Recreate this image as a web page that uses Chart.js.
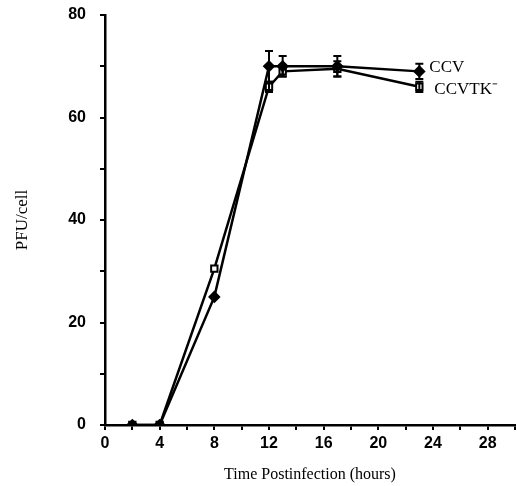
<!DOCTYPE html>
<html>
<head>
<meta charset="utf-8">
<script src="https://cdn.jsdelivr.net/npm/chart.js@4/dist/chart.umd.min.js"></script>
<style>
  html, body { margin: 0; padding: 0; background: #fff; overflow: hidden; }
  canvas { display: block; }
</style>
</head>
<body>
<canvas id="growth" width="517" height="486"></canvas>
<script>
// hours postinfection
const hours = [2, 4, 8, 12, 13, 17, 23];
const ccv = [0, 0, 25, 70, 70, 70, 69];
const ccvErr = [0, 0, 0, 3, 2, 2, 1.5];
const ccvtk = [0, 0, 30.5, 66, 69, 69.5, 66];
const ccvtkErr = [0, 0, 0, 1, 1, 1.5, 1];
const seriesLabels = ['CCV', 'CCVTK\u207B'];

function toPoints(xs, ys){
  return xs.map((x, i) => ({x: x, y: ys[i]}));
}

// error bars + end labels
const extras = {
  id: 'extras',
  afterDatasetsDraw(chart){
    const ctx = chart.ctx;
    const xs = chart.scales.x, ys = chart.scales.y;
    const errs = [ccvErr, ccvtkErr];
    ctx.save();
    ctx.strokeStyle = '#000';
    ctx.lineWidth = 2;
    chart.data.datasets.forEach((ds, d) => {
      ds.data.forEach((p, i) => {
        const e = errs[d][i];
        if (!e) return;
        const px = xs.getPixelForValue(p.x);
        const top = ys.getPixelForValue(p.y + e);
        const bot = ys.getPixelForValue(p.y - e);
        ctx.beginPath();
        ctx.moveTo(px, top); ctx.lineTo(px, bot);
        ctx.moveTo(px - 4, top); ctx.lineTo(px + 4, top);
        ctx.moveTo(px - 4, bot); ctx.lineTo(px + 4, bot);
        ctx.stroke();
      });
    });
    ctx.fillStyle = '#000';
    ctx.font = '17px "Liberation Serif", serif';
    ctx.textBaseline = 'middle';
    const lastX = xs.getPixelForValue(hours[hours.length - 1]);
    ctx.fillText(seriesLabels[0], lastX + 10, ys.getPixelForValue(ccv[ccv.length - 1]) - 4);
    ctx.fillText(seriesLabels[1], lastX + 15, ys.getPixelForValue(ccvtk[ccvtk.length - 1]) + 3);
    ctx.restore();
  }
};

const config = {
  type: 'line',
  data: {
    datasets: [{
      label: seriesLabels[0],
      data: toPoints(hours, ccv),
      borderColor: '#000',
      borderWidth: 2.5,
      backgroundColor: '#000',
      pointStyle: 'rectRot',
      pointRadius: 4.5,
      pointBorderColor: '#000',
      pointBackgroundColor: '#000',
      tension: 0
    }, {
      label: seriesLabels[1],
      data: toPoints(hours, ccvtk),
      borderColor: '#000',
      borderWidth: 2.5,
      backgroundColor: '#fff',
      pointStyle: 'rect',
      pointRadius: 4.5,
      pointBorderWidth: 2,
      pointBorderColor: '#000',
      pointBackgroundColor: '#fff',
      tension: 0
    }]
  },
  options: {
    responsive: false,
    devicePixelRatio: 1,
    animation: false,
    layout: { autoPadding: false, padding: { top: 15, right: 2, left: 8, bottom: 0 } },
    plugins: { legend: { display: false }, tooltip: { enabled: false } },
    scales: {
      x: {
        type: 'linear',
        min: 0,
        max: 30,
        afterFit(scale){ scale.height = 61; scale.paddingRight = 0; scale.paddingLeft = 0; },
        ticks: {
          stepSize: 2,
          color: '#000',
          font: { family: '"Liberation Sans", sans-serif', size: 16, weight: 'bold' },
          callback: v => (v % 4 === 0 && v < 30) ? v : '',
          maxRotation: 0,
          autoSkip: false,
          padding: 4
        },
        grid: { display: true, drawOnChartArea: false, drawTicks: true, tickLength: 5, color: '#000', lineWidth: 2 },
        border: { color: '#000', width: 2.5 },
        title: {
          display: true,
          text: 'Time Postinfection (hours)',
          color: '#000',
          font: { family: '"Liberation Serif", serif', size: 16 },
          padding: { top: 2, bottom: 2 }
        }
      },
      y: {
        min: 0,
        max: 80,
        afterFit(scale){ scale.width = 97; scale.paddingTop = 0; scale.paddingBottom = 0; },
        ticks: {
          stepSize: 10,
          color: '#000',
          font: { family: '"Liberation Sans", sans-serif', size: 16, weight: 'bold' },
          callback: v => v % 20 === 0 ? v : '',
          padding: 14
        },
        grid: { display: true, drawOnChartArea: false, drawTicks: true, tickLength: 5, color: '#000', lineWidth: 2 },
        border: { color: '#000', width: 2.5 },
        title: {
          display: true,
          text: 'PFU/cell',
          color: '#000',
          font: { family: '"Liberation Serif", serif', size: 17 },
          padding: { bottom: 12 }
        }
      }
    }
  },
  plugins: [extras]
};

new Chart(document.getElementById('growth').getContext('2d'), config);
</script>
</body>
</html>
